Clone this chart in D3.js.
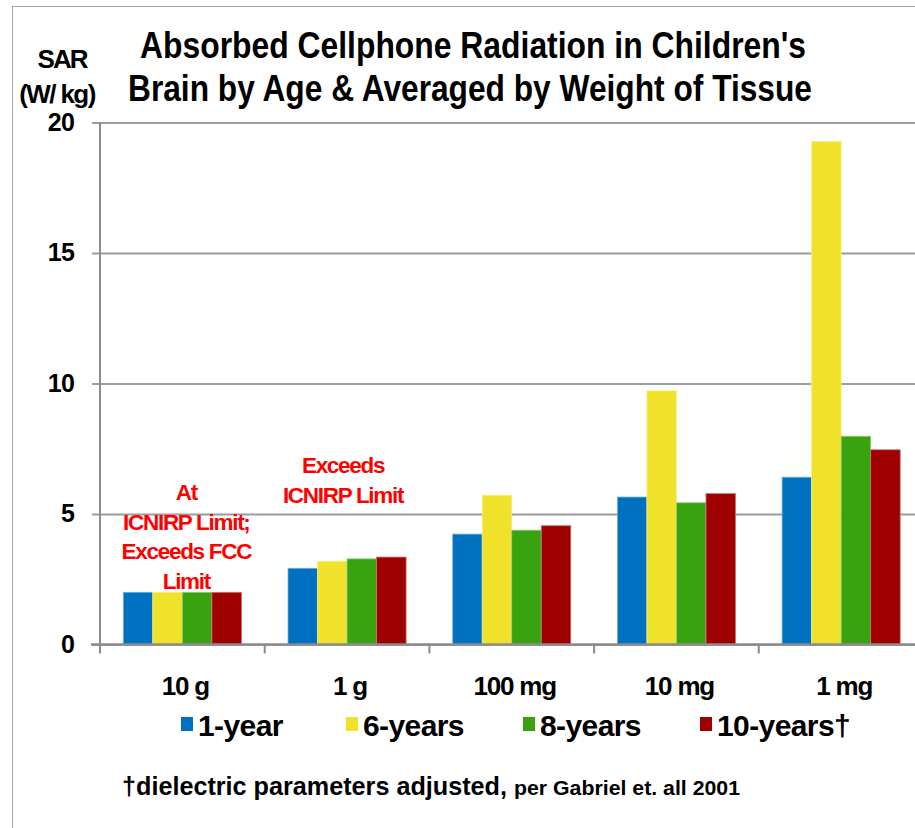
<!DOCTYPE html>
<html>
<head>
<meta charset="utf-8">
<script src="https://cdn.jsdelivr.net/npm/d3@7"></script>
<style>
  body { margin: 0; background: #fff; }
  svg { display: block; font-family: "Liberation Sans", Arial, sans-serif; font-weight: bold; }
</style>
</head>
<body>
<div id="chart"></div>
<script>
'use strict';
// SAR (W/kg) by tissue mass averaged, per age group
const categories = ['10 g', '1 g', '100 mg', '10 mg', '1 mg']
const series = ['1-year', '6-years', '8-years', '10-years†']
const colors = ['#0070c0', '#f0e22a', '#38a30e', '#9e0000']
const oneYear = [2.0, 2.92, 4.23, 5.65, 6.41]
const sixYears = [2.0, 3.19, 5.72, 9.72, 19.27]
const eightYears = [2.0, 3.28, 4.38, 5.43, 7.98]
const tenYears = [2.0, 3.35, 4.55, 5.78, 7.46]
const yTicks = [0, 5, 10, 15, 20]
const titleLines = ["Absorbed Cellphone Radiation in Children's", 'Brain by Age & Averaged by Weight of Tissue']
const notes = [
    { cat: '10 g', lines: ['At', 'ICNIRP Limit;', 'Exceeds FCC', 'Limit'] },
    { cat: '1 g', lines: ['Exceeds', 'ICNIRP Limit'] }
]

const values = [oneYear, sixYears, eightYears, tenYears]
const data = categories.map((c, i) => ({ cat: c, vals: series.map((s, j) => ({ key: s, value: values[j][i], color: colors[j] })) }))

const W = 915, H = 828
const margin = { top: 122.5, left: 100, bottom: 644.5 }
const svg = d3.select('#chart').append('svg')
    .attr('width', W)
    .attr('height', H)

svg.append('rect') // outer frame
    .attr('x', 12.5).attr('y', 6.5)
    .attr('width', 1000).attr('height', 1000)
    .attr('fill', 'none')
    .attr('stroke', '#a6a6a6')
    .attr('stroke-width', 1)

const x0 = d3.scaleBand()
    .domain(categories)
    .range([margin.left, margin.left + 5 * 164.7])
const inset = 23.3
const x1 = d3.scaleBand()
    .domain(series)
    .range([inset, x0.bandwidth() - inset])
const y = d3.scaleLinear()
    .domain([0, 20])
    .range([margin.bottom, margin.top])

// horizontal gridlines + y ticks
const yAxis = d3.axisLeft(y)
    .tickValues(yTicks)
    .tickSize(-(W + 20 - margin.left))
    .tickSizeOuter(0)
    .tickPadding(0)
    .tickFormat('')
const gy = svg.append('g')
    .attr('transform', `translate(${margin.left},0)`)
    .call(yAxis)
gy.select('.domain').remove()
gy.selectAll('.tick line')
    .attr('x1', -8)
    .attr('stroke', '#9c9c9c')
    .attr('stroke-width', 2)

svg.append('g').selectAll('text') // y tick labels
    .data(yTicks).enter().append('text')
    .attr('x', 74)
    .attr('y', d => y(d))
    .attr('dy', '0.33em')
    .attr('text-anchor', 'end')
    .attr('font-size', 25)
    .attr('letter-spacing', -0.8)
    .attr('fill', '#000')
    .text(d => d)

// bars
const groups = svg.append('g').selectAll('g')
    .data(data).enter().append('g')
    .attr('transform', d => `translate(${x0(d.cat)},0)`)
groups.selectAll('rect')
    .data(d => d.vals).enter().append('rect')
    .attr('x', d => x1(d.key))
    .attr('width', x1.bandwidth())
    .attr('y', d => y(d.value))
    .attr('height', d => y(0) - y(d.value))
    .attr('fill', d => d.color)
    .attr('stroke', d => d3.interpolateRgb(d.color, '#fff')(0.45))
    .attr('stroke-width', 0.8)

// y axis line
svg.append('line')
    .attr('x1', margin.left).attr('x2', margin.left)
    .attr('y1', margin.top).attr('y2', margin.bottom)
    .attr('stroke', '#8c8c8c')
    .attr('stroke-width', 2)

// x axis
const gx = svg.append('g')
    .attr('transform', `translate(0,${margin.bottom})`)
gx.append('line')
    .attr('x1', margin.left - 9).attr('x2', W + 20)
    .attr('stroke', '#8c8c8c')
    .attr('stroke-width', 2.5)
gx.selectAll('.xtick')
    .data(d3.range(0, 6)).enter().append('line')
    .attr('x1', i => margin.left + i * x0.step())
    .attr('x2', i => margin.left + i * x0.step())
    .attr('y1', 0).attr('y2', 9)
    .attr('stroke', '#8c8c8c')
    .attr('stroke-width', 2)
gx.selectAll('.xlab')
    .data(categories).enter().append('text')
    .attr('x', d => x0(d) + x0.bandwidth() / 2 + 3)
    .attr('y', 50)
    .attr('text-anchor', 'middle')
    .attr('font-size', 26)
    .attr('letter-spacing', -1.2)
    .text(d => d)

// title
svg.selectAll('.title')
    .data(titleLines).enter().append('text')
    .attr('x', (d, i) => i === 0 ? 140 : 128)
    .attr('y', (d, i) => i === 0 ? 58 : 100.5)
    .attr('font-size', 36)
    .attr('textLength', (d, i) => i === 0 ? 666 : 684)
    .attr('lengthAdjust', 'spacingAndGlyphs')
    .text(d => d)

// y axis label
svg.append('text')
    .attr('x', 62).attr('y', 68)
    .attr('text-anchor', 'middle')
    .attr('font-size', 26)
    .attr('letter-spacing', -2)
    .text('SAR')
svg.append('text')
    .attr('x', 57).attr('y', 103)
    .attr('text-anchor', 'middle')
    .attr('font-size', 26)
    .attr('letter-spacing', -1.6)
    .text('(W/ kg)')

// red notes
notes.forEach((n, k) => {
    const cx = x0(n.cat) + x0.bandwidth() / 2 + (k === 0 ? 4 : -4)
    const top = k === 0 ? 500 : 473
    svg.append('g').selectAll('text')
        .data(n.lines).enter().append('text')
        .attr('x', cx)
        .attr('y', (d, i) => top + i * 29.5)
        .attr('text-anchor', 'middle')
        .attr('font-size', 22.5)
        .attr('letter-spacing', -1.3)
        .attr('fill', '#ff0000')
        .text(d => d)
})

// legend
const legendX = [181, 346, 523, 700]
const lg = svg.append('g').selectAll('g')
    .data(series).enter().append('g')
    .attr('transform', (d, i) => `translate(${legendX[i]},717)`)
lg.append('rect')
    .attr('width', 12).attr('height', 14)
    .attr('fill', (d, i) => colors[i])
lg.append('text')
    .attr('x', 17).attr('y', 19)
    .attr('font-size', 30)
    .attr('letter-spacing', -0.6)
    .text(d => d)

// footnote
svg.append('text')
    .attr('x', 122).attr('y', 795)
    .attr('font-size', 25)
    .attr('textLength', 385)
    .attr('lengthAdjust', 'spacingAndGlyphs')
    .text('†dielectric parameters adjusted,')
svg.append('text')
    .attr('x', 514).attr('y', 795)
    .attr('font-size', 19.5)
    .attr('textLength', 226)
    .attr('lengthAdjust', 'spacingAndGlyphs')
    .text('per Gabriel et. all 2001')
</script>
</body>
</html>
